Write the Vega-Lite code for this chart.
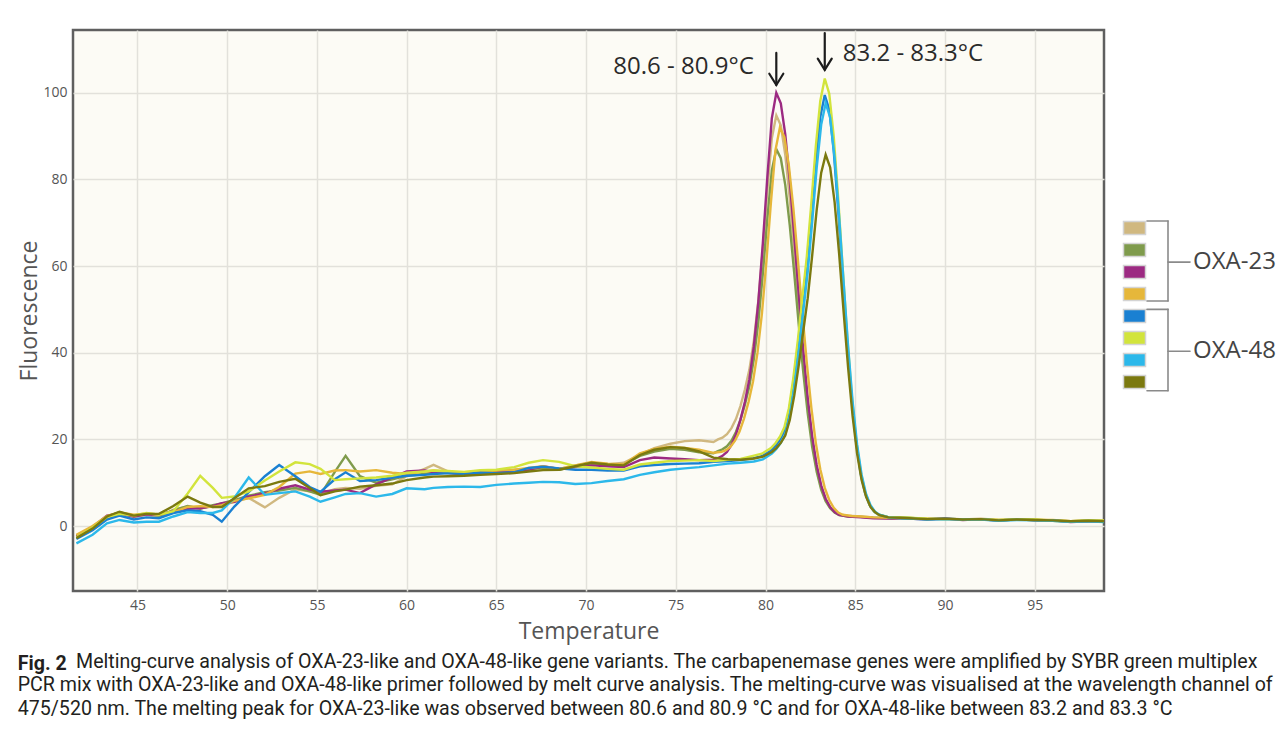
{
  "$schema": "https://vega.github.io/schema/vega-lite/v6.json",
  "background": "white",
  "padding": {"left": 16, "top": 27, "right": 0, "bottom": 0},
  "spacing": 0,
  "title": {
    "text": "Fig. 2",
    "subtitle": [
      "\u200b\u00a0\u00a0\u00a0\u00a0\u00a0\u00a0\u00a0\u00a0\u00a0\u00a0\u00a0\u00a0Melting-curve analysis of OXA-23-like and OXA-48-like gene variants. The carbapenemase genes were amplified by SYBR green multiplex",
      "PCR mix with OXA-23-like and OXA-48-like primer followed by melt curve analysis. The melting-curve was visualised at the wavelength channel of",
      "475/520 nm. The melting peak for OXA-23-like was observed between 80.6 and 80.9 °C and for OXA-48-like between 83.2 and 83.3 °C"
    ],
    "orient": "bottom",
    "anchor": "start",
    "frame": "bounds",
    "offset": 11,
    "dx": 1,
    "font": "Roboto",
    "fontSize": 19.6,
    "fontWeight": "bold",
    "color": "#231f20",
    "subtitleFont": "Roboto",
    "subtitleFontSize": 19.6,
    "subtitleFontWeight": "normal",
    "subtitleColor": "#231f20",
    "subtitleLineHeight": 23.5,
    "subtitlePadding": -22
  },
  "config": {
    "axis": {"labelFont": "Open Sans", "titleFont": "Open Sans"}
  },
  "datasets": {
    "curves": [
      {"s":"s1","t":41.6,"f":-2.6},{"s":"s1","t":42.5,"f":-0.6},{"s":"s1","t":43.3,"f":1.8},{"s":"s1","t":44,"f":2.8},{"s":"s1","t":44.8,"f":2.1},{"s":"s1","t":45.5,"f":2.6},{"s":"s1","t":46.2,"f":2.0},{"s":"s1","t":47,"f":3.8},{"s":"s1","t":47.8,"f":4.5},{"s":"s1","t":48.5,"f":4.2},{"s":"s1","t":49.2,"f":4.5},{"s":"s1","t":49.7,"f":4.9},{"s":"s1","t":50.4,"f":5.5},{"s":"s1","t":51.2,"f":6.5},{"s":"s1","t":52.1,"f":4.3},{"s":"s1","t":52.9,"f":6.5},{"s":"s1","t":53.8,"f":8.5},{"s":"s1","t":54.6,"f":8.0},{"s":"s1","t":55.2,"f":7.5},{"s":"s1","t":56,"f":8.5},{"s":"s1","t":56.6,"f":8.8},{"s":"s1","t":57.4,"f":8.6},{"s":"s1","t":58.3,"f":9.3},{"s":"s1","t":59.2,"f":9.6},{"s":"s1","t":60,"f":11.5},{"s":"s1","t":61,"f":13.2},{"s":"s1","t":61.5,"f":14.1},{"s":"s1","t":62.3,"f":12.6},{"s":"s1","t":63.2,"f":12.2},{"s":"s1","t":64.1,"f":12.5},{"s":"s1","t":65,"f":12.3},{"s":"s1","t":66,"f":13.0},{"s":"s1","t":66.8,"f":13.2},{"s":"s1","t":67.6,"f":13.6},{"s":"s1","t":68.5,"f":13.2},{"s":"s1","t":69.4,"f":14.0},{"s":"s1","t":70.3,"f":14.6},{"s":"s1","t":71.2,"f":14.2},{"s":"s1","t":72.1,"f":14.6},{"s":"s1","t":73,"f":16.5},{"s":"s1","t":73.8,"f":18.0},{"s":"s1","t":74.7,"f":19.0},{"s":"s1","t":75.5,"f":19.6},{"s":"s1","t":76.3,"f":19.8},{"s":"s1","t":77.1,"f":19.4},
      {"s":"s1","t":77.35,"f":20.0},{"s":"s1","t":77.6,"f":20.4},{"s":"s1","t":77.85,"f":21.2},{"s":"s1","t":78.1,"f":22.6},{"s":"s1","t":78.35,"f":24.7},{"s":"s1","t":78.6,"f":27.7},{"s":"s1","t":78.85,"f":31.5},{"s":"s1","t":79.1,"f":36.1},{"s":"s1","t":79.35,"f":42.8},{"s":"s1","t":79.6,"f":52.0},{"s":"s1","t":79.85,"f":64.0},{"s":"s1","t":80.1,"f":77.5},{"s":"s1","t":80.35,"f":89.5},{"s":"s1","t":80.6,"f":94.8},{"s":"s1","t":80.85,"f":92.5},{"s":"s1","t":81.1,"f":85.7},{"s":"s1","t":81.35,"f":75.6},{"s":"s1","t":81.6,"f":63.4},{"s":"s1","t":81.85,"f":50.6},{"s":"s1","t":82.1,"f":38.7},{"s":"s1","t":82.35,"f":28.2},{"s":"s1","t":82.6,"f":19.7},{"s":"s1","t":82.85,"f":13.4},{"s":"s1","t":83.1,"f":9.0},{"s":"s1","t":83.35,"f":6.1},{"s":"s1","t":83.6,"f":4.3},{"s":"s1","t":83.85,"f":3.2},{"s":"s1","t":84.1,"f":2.7},{"s":"s1","t":84.6,"f":2.4},
      {"s":"s1","t":85.3,"f":2.2},{"s":"s1","t":86,"f":2.0},{"s":"s1","t":87,"f":1.9},{"s":"s1","t":88,"f":1.8},{"s":"s1","t":89,"f":1.7},{"s":"s1","t":90,"f":1.8},{"s":"s1","t":91,"f":1.5},{"s":"s1","t":92,"f":1.7},{"s":"s1","t":93,"f":1.4},{"s":"s1","t":94,"f":1.6},{"s":"s1","t":95,"f":1.5},{"s":"s1","t":96,"f":1.3},{"s":"s1","t":97,"f":1.1},{"s":"s1","t":98,"f":1.3},{"s":"s1","t":98.86,"f":1.2},

      {"s":"s2","t":41.6,"f":-2.2},{"s":"s2","t":42.5,"f":-0.3},{"s":"s2","t":43.3,"f":2.2},{"s":"s2","t":44,"f":3.2},{"s":"s2","t":44.8,"f":2.3},{"s":"s2","t":45.5,"f":2.8},{"s":"s2","t":46.2,"f":2.4},{"s":"s2","t":47,"f":3.6},{"s":"s2","t":47.8,"f":4.6},{"s":"s2","t":48.5,"f":4.0},{"s":"s2","t":49.2,"f":4.8},{"s":"s2","t":49.7,"f":5.2},{"s":"s2","t":50.4,"f":6.0},{"s":"s2","t":51.2,"f":7.0},{"s":"s2","t":52.1,"f":7.8},{"s":"s2","t":52.9,"f":8.2},{"s":"s2","t":53.8,"f":8.8},{"s":"s2","t":54.6,"f":8.0},{"s":"s2","t":55.2,"f":7.2},{"s":"s2","t":56,"f":12.5},{"s":"s2","t":56.6,"f":16.2},{"s":"s2","t":57.4,"f":11.5},{"s":"s2","t":58.3,"f":10.0},{"s":"s2","t":59.2,"f":10.8},{"s":"s2","t":60,"f":11.6},{"s":"s2","t":61,"f":12.0},{"s":"s2","t":61.5,"f":12.3},{"s":"s2","t":62.3,"f":12.2},{"s":"s2","t":63.2,"f":12.0},{"s":"s2","t":64.1,"f":12.4},{"s":"s2","t":65,"f":12.5},{"s":"s2","t":66,"f":12.8},{"s":"s2","t":66.8,"f":13.2},{"s":"s2","t":67.6,"f":13.4},{"s":"s2","t":68.5,"f":13.0},{"s":"s2","t":69.4,"f":13.8},{"s":"s2","t":70.3,"f":14.5},{"s":"s2","t":71.2,"f":14.3},{"s":"s2","t":72.1,"f":14.2},{"s":"s2","t":73,"f":16.2},{"s":"s2","t":73.8,"f":17.2},{"s":"s2","t":74.7,"f":17.8},{"s":"s2","t":75.5,"f":17.6},{"s":"s2","t":76.3,"f":17.0},{"s":"s2","t":77.1,"f":16.8},
      {"s":"s2","t":77.35,"f":17.3},{"s":"s2","t":77.6,"f":17.7},{"s":"s2","t":77.85,"f":18.4},{"s":"s2","t":78.1,"f":19.7},{"s":"s2","t":78.35,"f":21.7},{"s":"s2","t":78.6,"f":24.5},{"s":"s2","t":78.85,"f":28.0},{"s":"s2","t":79.1,"f":32.3},{"s":"s2","t":79.35,"f":38.6},{"s":"s2","t":79.6,"f":47.1},{"s":"s2","t":79.85,"f":58.3},{"s":"s2","t":80.1,"f":70.9},{"s":"s2","t":80.35,"f":82.1},{"s":"s2","t":80.6,"f":87.0},{"s":"s2","t":80.85,"f":84.9},{"s":"s2","t":81.1,"f":78.7},{"s":"s2","t":81.35,"f":69.4},{"s":"s2","t":81.6,"f":58.3},{"s":"s2","t":81.85,"f":46.5},{"s":"s2","t":82.1,"f":35.6},{"s":"s2","t":82.35,"f":26.0},{"s":"s2","t":82.6,"f":18.2},{"s":"s2","t":82.85,"f":12.5},{"s":"s2","t":83.1,"f":8.4},{"s":"s2","t":83.35,"f":5.7},{"s":"s2","t":83.6,"f":4.1},{"s":"s2","t":83.85,"f":3.1},{"s":"s2","t":84.1,"f":2.5},{"s":"s2","t":84.6,"f":2.2},
      {"s":"s2","t":85.3,"f":2.1},{"s":"s2","t":86,"f":1.9},{"s":"s2","t":87,"f":1.8},{"s":"s2","t":88,"f":1.9},{"s":"s2","t":89,"f":1.6},{"s":"s2","t":90,"f":1.6},{"s":"s2","t":91,"f":1.6},{"s":"s2","t":92,"f":1.5},{"s":"s2","t":93,"f":1.3},{"s":"s2","t":94,"f":1.5},{"s":"s2","t":95,"f":1.4},{"s":"s2","t":96,"f":1.2},{"s":"s2","t":97,"f":1.0},{"s":"s2","t":98,"f":1.2},{"s":"s2","t":98.86,"f":1.0},

      {"s":"s3","t":41.6,"f":-2.4},{"s":"s3","t":42.5,"f":-0.2},{"s":"s3","t":43.3,"f":2.4},{"s":"s3","t":44,"f":2.9},{"s":"s3","t":44.8,"f":2.2},{"s":"s3","t":45.5,"f":2.7},{"s":"s3","t":46.2,"f":2.6},{"s":"s3","t":47,"f":3.4},{"s":"s3","t":47.8,"f":4.0},{"s":"s3","t":48.5,"f":4.1},{"s":"s3","t":49.2,"f":4.6},{"s":"s3","t":49.7,"f":5.3},{"s":"s3","t":50.4,"f":5.6},{"s":"s3","t":51.2,"f":6.8},{"s":"s3","t":52.1,"f":7.5},{"s":"s3","t":52.9,"f":8.6},{"s":"s3","t":53.8,"f":9.4},{"s":"s3","t":54.6,"f":8.4},{"s":"s3","t":55.2,"f":7.9},{"s":"s3","t":56,"f":8.2},{"s":"s3","t":56.6,"f":8.4},{"s":"s3","t":57.4,"f":7.6},{"s":"s3","t":58.3,"f":9.6},{"s":"s3","t":59.2,"f":11.2},{"s":"s3","t":60,"f":12.6},{"s":"s3","t":61,"f":12.8},{"s":"s3","t":61.5,"f":12.4},{"s":"s3","t":62.3,"f":12.3},{"s":"s3","t":63.2,"f":12.0},{"s":"s3","t":64.1,"f":12.2},{"s":"s3","t":65,"f":12.6},{"s":"s3","t":66,"f":12.6},{"s":"s3","t":66.8,"f":13.0},{"s":"s3","t":67.6,"f":13.8},{"s":"s3","t":68.5,"f":13.2},{"s":"s3","t":69.4,"f":13.6},{"s":"s3","t":70.3,"f":14.0},{"s":"s3","t":71.2,"f":13.8},{"s":"s3","t":72.1,"f":13.6},{"s":"s3","t":73,"f":15.2},{"s":"s3","t":73.8,"f":15.8},{"s":"s3","t":74.7,"f":15.6},{"s":"s3","t":75.5,"f":15.4},{"s":"s3","t":76.3,"f":15.2},{"s":"s3","t":77.1,"f":15.3},
      {"s":"s3","t":77.35,"f":15.7},{"s":"s3","t":77.6,"f":16.2},{"s":"s3","t":77.85,"f":17.1},{"s":"s3","t":78.1,"f":18.7},{"s":"s3","t":78.35,"f":21.1},{"s":"s3","t":78.6,"f":24.5},{"s":"s3","t":78.85,"f":28.7},{"s":"s3","t":79.1,"f":33.9},{"s":"s3","t":79.35,"f":41.5},{"s":"s3","t":79.6,"f":51.8},{"s":"s3","t":79.85,"f":65.3},{"s":"s3","t":80.1,"f":80.5},{"s":"s3","t":80.35,"f":94.1},{"s":"s3","t":80.6,"f":100.0},{"s":"s3","t":80.85,"f":97.6},{"s":"s3","t":81.1,"f":90.4},{"s":"s3","t":81.35,"f":79.7},{"s":"s3","t":81.6,"f":66.9},{"s":"s3","t":81.85,"f":53.4},{"s":"s3","t":82.1,"f":40.7},{"s":"s3","t":82.35,"f":29.6},{"s":"s3","t":82.6,"f":20.7},{"s":"s3","t":82.85,"f":14.1},{"s":"s3","t":83.1,"f":9.4},{"s":"s3","t":83.35,"f":6.3},{"s":"s3","t":83.6,"f":4.4},{"s":"s3","t":83.85,"f":3.2},{"s":"s3","t":84.1,"f":2.6},{"s":"s3","t":84.6,"f":2.2},
      {"s":"s3","t":85.3,"f":2.0},{"s":"s3","t":86,"f":1.8},{"s":"s3","t":87,"f":1.7},{"s":"s3","t":88,"f":1.7},{"s":"s3","t":89,"f":1.5},{"s":"s3","t":90,"f":1.7},{"s":"s3","t":91,"f":1.4},{"s":"s3","t":92,"f":1.6},{"s":"s3","t":93,"f":1.2},{"s":"s3","t":94,"f":1.6},{"s":"s3","t":95,"f":1.3},{"s":"s3","t":96,"f":1.3},{"s":"s3","t":97,"f":0.9},{"s":"s3","t":98,"f":1.1},{"s":"s3","t":98.86,"f":1.1},

      {"s":"s4","t":41.6,"f":-2.0},{"s":"s4","t":42.5,"f":0.0},{"s":"s4","t":43.3,"f":2.3},{"s":"s4","t":44,"f":3.1},{"s":"s4","t":44.8,"f":2.6},{"s":"s4","t":45.5,"f":2.9},{"s":"s4","t":46.2,"f":2.7},{"s":"s4","t":47,"f":3.2},{"s":"s4","t":47.8,"f":4.4},{"s":"s4","t":48.5,"f":4.6},{"s":"s4","t":49.2,"f":4.4},{"s":"s4","t":49.7,"f":4.8},{"s":"s4","t":50.4,"f":5.8},{"s":"s4","t":51.2,"f":6.4},{"s":"s4","t":52.1,"f":7.2},{"s":"s4","t":52.9,"f":9.0},{"s":"s4","t":53.8,"f":12.1},{"s":"s4","t":54.6,"f":12.6},{"s":"s4","t":55.2,"f":12.0},{"s":"s4","t":56,"f":12.8},{"s":"s4","t":56.6,"f":12.9},{"s":"s4","t":57.4,"f":12.6},{"s":"s4","t":58.3,"f":12.9},{"s":"s4","t":59.2,"f":12.3},{"s":"s4","t":60,"f":12.0},{"s":"s4","t":61,"f":12.6},{"s":"s4","t":61.5,"f":12.8},{"s":"s4","t":62.3,"f":12.5},{"s":"s4","t":63.2,"f":12.4},{"s":"s4","t":64.1,"f":12.6},{"s":"s4","t":65,"f":12.8},{"s":"s4","t":66,"f":13.0},{"s":"s4","t":66.8,"f":13.4},{"s":"s4","t":67.6,"f":13.8},{"s":"s4","t":68.5,"f":13.2},{"s":"s4","t":69.4,"f":14.0},{"s":"s4","t":70.3,"f":14.8},{"s":"s4","t":71.2,"f":14.4},{"s":"s4","t":72.1,"f":14.2},{"s":"s4","t":73,"f":16.8},{"s":"s4","t":73.8,"f":17.8},{"s":"s4","t":74.7,"f":18.3},{"s":"s4","t":75.5,"f":18.0},{"s":"s4","t":76.3,"f":17.6},{"s":"s4","t":77.1,"f":16.9},
      {"s":"s4","t":77.55,"f":17.1},{"s":"s4","t":77.8,"f":17.5},{"s":"s4","t":78.05,"f":18.3},{"s":"s4","t":78.3,"f":19.7},{"s":"s4","t":78.55,"f":21.8},{"s":"s4","t":78.8,"f":24.8},{"s":"s4","t":79.05,"f":28.6},{"s":"s4","t":79.3,"f":33.3},{"s":"s4","t":79.55,"f":40.0},{"s":"s4","t":79.8,"f":49.1},{"s":"s4","t":80.05,"f":61.2},{"s":"s4","t":80.3,"f":74.7},{"s":"s4","t":80.55,"f":86.7},{"s":"s4","t":80.8,"f":92.0},{"s":"s4","t":81.05,"f":89.8},{"s":"s4","t":81.3,"f":83.2},{"s":"s4","t":81.55,"f":73.4},{"s":"s4","t":81.8,"f":61.6},{"s":"s4","t":82.05,"f":49.2},{"s":"s4","t":82.3,"f":37.6},{"s":"s4","t":82.55,"f":27.4},{"s":"s4","t":82.8,"f":19.2},{"s":"s4","t":83.05,"f":13.1},{"s":"s4","t":83.3,"f":8.8},{"s":"s4","t":83.55,"f":6.0},{"s":"s4","t":83.8,"f":4.2},{"s":"s4","t":84.05,"f":3.1},{"s":"s4","t":84.3,"f":2.6},{"s":"s4","t":84.8,"f":2.3},
      {"s":"s4","t":85.3,"f":2.2},{"s":"s4","t":86,"f":2.0},{"s":"s4","t":87,"f":1.9},{"s":"s4","t":88,"f":1.8},{"s":"s4","t":89,"f":1.7},{"s":"s4","t":90,"f":1.6},{"s":"s4","t":91,"f":1.6},{"s":"s4","t":92,"f":1.6},{"s":"s4","t":93,"f":1.4},{"s":"s4","t":94,"f":1.5},{"s":"s4","t":95,"f":1.4},{"s":"s4","t":96,"f":1.4},{"s":"s4","t":97,"f":1.1},{"s":"s4","t":98,"f":1.2},{"s":"s4","t":98.86,"f":1.2},

      {"s":"s5","t":41.6,"f":-3.0},{"s":"s5","t":42.5,"f":-1.0},{"s":"s5","t":43.3,"f":1.5},{"s":"s5","t":44,"f":2.4},{"s":"s5","t":44.8,"f":1.5},{"s":"s5","t":45.5,"f":2.0},{"s":"s5","t":46.2,"f":1.8},{"s":"s5","t":47,"f":3.0},{"s":"s5","t":47.8,"f":3.6},{"s":"s5","t":48.5,"f":3.4},{"s":"s5","t":49.2,"f":2.6},{"s":"s5","t":49.7,"f":1.0},{"s":"s5","t":50.4,"f":4.5},{"s":"s5","t":51.2,"f":7.8},{"s":"s5","t":52.1,"f":11.5},{"s":"s5","t":52.9,"f":14.1},{"s":"s5","t":53.8,"f":11.5},{"s":"s5","t":54.6,"f":9.0},{"s":"s5","t":55.2,"f":7.9},{"s":"s5","t":56,"f":10.8},{"s":"s5","t":56.6,"f":12.4},{"s":"s5","t":57.4,"f":10.4},{"s":"s5","t":58.3,"f":10.6},{"s":"s5","t":59.2,"f":11.2},{"s":"s5","t":60,"f":11.6},{"s":"s5","t":61,"f":11.8},{"s":"s5","t":61.5,"f":12.0},{"s":"s5","t":62.3,"f":12.2},{"s":"s5","t":63.2,"f":12.0},{"s":"s5","t":64.1,"f":12.3},{"s":"s5","t":65,"f":12.2},{"s":"s5","t":66,"f":12.4},{"s":"s5","t":66.8,"f":13.4},{"s":"s5","t":67.6,"f":13.7},{"s":"s5","t":68.5,"f":13.3},{"s":"s5","t":69.4,"f":13.0},{"s":"s5","t":70.3,"f":13.0},{"s":"s5","t":71.2,"f":12.8},{"s":"s5","t":72.1,"f":12.8},{"s":"s5","t":73,"f":13.8},{"s":"s5","t":73.8,"f":14.1},{"s":"s5","t":74.7,"f":14.3},{"s":"s5","t":75.5,"f":14.4},{"s":"s5","t":76.3,"f":14.5},{"s":"s5","t":77.1,"f":14.8},{"s":"s5","t":77.9,"f":15.0},{"s":"s5","t":78.6,"f":15.2},
      {"s":"s5","t":79.3,"f":15.6},{"s":"s5","t":79.8,"f":16.1},{"s":"s5","t":80.3,"f":17.4},{"s":"s5","t":80.55,"f":18.5},{"s":"s5","t":80.8,"f":19.9},{"s":"s5","t":81.05,"f":22.0},{"s":"s5","t":81.3,"f":26.2},{"s":"s5","t":81.55,"f":33.0},{"s":"s5","t":81.8,"f":41.4},{"s":"s5","t":82.05,"f":50.7},{"s":"s5","t":82.3,"f":59.9},{"s":"s5","t":82.55,"f":71.7},{"s":"s5","t":82.8,"f":84.3},{"s":"s5","t":83.05,"f":94.4},{"s":"s5","t":83.3,"f":99.5},{"s":"s5","t":83.55,"f":96.1},{"s":"s5","t":83.8,"f":86.6},{"s":"s5","t":84.05,"f":72.9},{"s":"s5","t":84.3,"f":57.4},{"s":"s5","t":84.55,"f":42.3},{"s":"s5","t":84.8,"f":29.3},{"s":"s5","t":85.05,"f":19.3},{"s":"s5","t":85.3,"f":12.1},{"s":"s5","t":85.55,"f":7.6},{"s":"s5","t":85.8,"f":4.8},{"s":"s5","t":86.05,"f":3.3},{"s":"s5","t":86.3,"f":2.6},{"s":"s5","t":86.8,"f":2.1},
      {"s":"s5","t":87.5,"f":1.9},{"s":"s5","t":88,"f":1.8},{"s":"s5","t":89,"f":1.6},{"s":"s5","t":90,"f":1.7},{"s":"s5","t":91,"f":1.5},{"s":"s5","t":92,"f":1.6},{"s":"s5","t":93,"f":1.3},{"s":"s5","t":94,"f":1.6},{"s":"s5","t":95,"f":1.4},{"s":"s5","t":96,"f":1.3},{"s":"s5","t":97,"f":1.0},{"s":"s5","t":98,"f":1.2},{"s":"s5","t":98.86,"f":1.1},

      {"s":"s6","t":41.6,"f":-2.6},{"s":"s6","t":42.5,"f":-0.4},{"s":"s6","t":43.3,"f":2.1},{"s":"s6","t":44,"f":2.8},{"s":"s6","t":44.8,"f":2.4},{"s":"s6","t":45.5,"f":3.0},{"s":"s6","t":46.2,"f":2.6},{"s":"s6","t":47,"f":3.4},{"s":"s6","t":47.8,"f":7.5},{"s":"s6","t":48.5,"f":11.6},{"s":"s6","t":49.2,"f":8.8},{"s":"s6","t":49.7,"f":6.5},{"s":"s6","t":50.4,"f":6.8},{"s":"s6","t":51.2,"f":8.0},{"s":"s6","t":52.1,"f":10.5},{"s":"s6","t":52.9,"f":12.6},{"s":"s6","t":53.8,"f":14.7},{"s":"s6","t":54.6,"f":14.3},{"s":"s6","t":55.2,"f":13.2},{"s":"s6","t":56,"f":10.6},{"s":"s6","t":56.6,"f":10.8},{"s":"s6","t":57.4,"f":11.0},{"s":"s6","t":58.3,"f":11.2},{"s":"s6","t":59.2,"f":11.6},{"s":"s6","t":60,"f":12.3},{"s":"s6","t":61,"f":12.6},{"s":"s6","t":61.5,"f":12.8},{"s":"s6","t":62.3,"f":12.7},{"s":"s6","t":63.2,"f":12.5},{"s":"s6","t":64.1,"f":12.9},{"s":"s6","t":65,"f":13.0},{"s":"s6","t":66,"f":13.6},{"s":"s6","t":66.8,"f":14.6},{"s":"s6","t":67.6,"f":15.2},{"s":"s6","t":68.5,"f":14.8},{"s":"s6","t":69.4,"f":13.8},{"s":"s6","t":70.3,"f":13.5},{"s":"s6","t":71.2,"f":13.2},{"s":"s6","t":72.1,"f":13.0},{"s":"s6","t":73,"f":14.2},{"s":"s6","t":73.8,"f":14.6},{"s":"s6","t":74.7,"f":15.0},{"s":"s6","t":75.5,"f":15.1},{"s":"s6","t":76.3,"f":15.2},{"s":"s6","t":77.1,"f":15.0},{"s":"s6","t":77.9,"f":15.3},{"s":"s6","t":78.6,"f":15.5},
      {"s":"s6","t":79.3,"f":16.2},{"s":"s6","t":79.8,"f":16.7},{"s":"s6","t":80.3,"f":18.0},{"s":"s6","t":80.55,"f":19.1},{"s":"s6","t":80.8,"f":20.6},{"s":"s6","t":81.05,"f":22.8},{"s":"s6","t":81.3,"f":27.2},{"s":"s6","t":81.55,"f":34.2},{"s":"s6","t":81.8,"f":42.9},{"s":"s6","t":82.05,"f":52.6},{"s":"s6","t":82.3,"f":62.2},{"s":"s6","t":82.55,"f":74.4},{"s":"s6","t":82.8,"f":87.6},{"s":"s6","t":83.05,"f":98.1},{"s":"s6","t":83.3,"f":103.3},{"s":"s6","t":83.55,"f":99.8},{"s":"s6","t":83.8,"f":89.9},{"s":"s6","t":84.05,"f":75.6},{"s":"s6","t":84.3,"f":59.5},{"s":"s6","t":84.55,"f":43.8},{"s":"s6","t":84.8,"f":30.4},{"s":"s6","t":85.05,"f":19.9},{"s":"s6","t":85.3,"f":12.5},{"s":"s6","t":85.55,"f":7.8},{"s":"s6","t":85.8,"f":4.9},{"s":"s6","t":86.05,"f":3.4},{"s":"s6","t":86.3,"f":2.6},{"s":"s6","t":86.8,"f":2.1},
      {"s":"s6","t":87.5,"f":2.0},{"s":"s6","t":88,"f":1.9},{"s":"s6","t":89,"f":1.7},{"s":"s6","t":90,"f":1.6},{"s":"s6","t":91,"f":1.6},{"s":"s6","t":92,"f":1.5},{"s":"s6","t":93,"f":1.4},{"s":"s6","t":94,"f":1.5},{"s":"s6","t":95,"f":1.5},{"s":"s6","t":96,"f":1.2},{"s":"s6","t":97,"f":1.1},{"s":"s6","t":98,"f":1.3},{"s":"s6","t":98.86,"f":1.2},

      {"s":"s7","t":41.6,"f":-4.0},{"s":"s7","t":42.5,"f":-2.0},{"s":"s7","t":43.3,"f":0.6},{"s":"s7","t":44,"f":1.4},{"s":"s7","t":44.8,"f":0.8},{"s":"s7","t":45.5,"f":1.0},{"s":"s7","t":46.2,"f":1.0},{"s":"s7","t":47,"f":2.2},{"s":"s7","t":47.8,"f":3.2},{"s":"s7","t":48.5,"f":3.0},{"s":"s7","t":49.2,"f":3.0},{"s":"s7","t":49.7,"f":3.6},{"s":"s7","t":50.4,"f":6.5},{"s":"s7","t":51.2,"f":11.2},{"s":"s7","t":52.1,"f":7.2},{"s":"s7","t":52.9,"f":7.6},{"s":"s7","t":53.8,"f":8.0},{"s":"s7","t":54.6,"f":6.8},{"s":"s7","t":55.2,"f":5.6},{"s":"s7","t":56,"f":6.6},{"s":"s7","t":56.6,"f":7.4},{"s":"s7","t":57.4,"f":7.6},{"s":"s7","t":58.3,"f":6.8},{"s":"s7","t":59.2,"f":7.4},{"s":"s7","t":60,"f":8.7},{"s":"s7","t":61,"f":8.5},{"s":"s7","t":61.5,"f":8.8},{"s":"s7","t":62.3,"f":9.0},{"s":"s7","t":63.2,"f":9.1},{"s":"s7","t":64.1,"f":9.0},{"s":"s7","t":65,"f":9.5},{"s":"s7","t":66,"f":9.8},{"s":"s7","t":66.8,"f":10.0},{"s":"s7","t":67.6,"f":10.2},{"s":"s7","t":68.5,"f":10.1},{"s":"s7","t":69.4,"f":9.7},{"s":"s7","t":70.3,"f":9.9},{"s":"s7","t":71.2,"f":10.4},{"s":"s7","t":72.1,"f":10.8},{"s":"s7","t":73,"f":11.8},{"s":"s7","t":73.8,"f":12.4},{"s":"s7","t":74.7,"f":13.0},{"s":"s7","t":75.5,"f":13.3},{"s":"s7","t":76.3,"f":13.6},{"s":"s7","t":77.1,"f":14.0},{"s":"s7","t":77.9,"f":14.4},{"s":"s7","t":78.6,"f":14.6},
      {"s":"s7","t":79.35,"f":14.9},{"s":"s7","t":79.85,"f":15.4},{"s":"s7","t":80.35,"f":16.7},{"s":"s7","t":80.6,"f":17.8},{"s":"s7","t":80.85,"f":19.2},{"s":"s7","t":81.1,"f":21.2},{"s":"s7","t":81.35,"f":25.4},{"s":"s7","t":81.6,"f":32.0},{"s":"s7","t":81.85,"f":40.3},{"s":"s7","t":82.1,"f":49.5},{"s":"s7","t":82.35,"f":58.6},{"s":"s7","t":82.6,"f":70.2},{"s":"s7","t":82.85,"f":82.7},{"s":"s7","t":83.1,"f":92.6},{"s":"s7","t":83.35,"f":97.6},{"s":"s7","t":83.6,"f":94.3},{"s":"s7","t":83.85,"f":85.0},{"s":"s7","t":84.1,"f":71.5},{"s":"s7","t":84.35,"f":56.3},{"s":"s7","t":84.6,"f":41.5},{"s":"s7","t":84.85,"f":28.8},{"s":"s7","t":85.1,"f":18.9},{"s":"s7","t":85.35,"f":11.9},{"s":"s7","t":85.6,"f":7.4},{"s":"s7","t":85.85,"f":4.8},{"s":"s7","t":86.1,"f":3.3},{"s":"s7","t":86.35,"f":2.6},{"s":"s7","t":86.85,"f":2.0},
      {"s":"s7","t":87.5,"f":1.8},{"s":"s7","t":88,"f":1.7},{"s":"s7","t":89,"f":1.5},{"s":"s7","t":90,"f":1.6},{"s":"s7","t":91,"f":1.5},{"s":"s7","t":92,"f":1.5},{"s":"s7","t":93,"f":1.2},{"s":"s7","t":94,"f":1.4},{"s":"s7","t":95,"f":1.3},{"s":"s7","t":96,"f":1.2},{"s":"s7","t":97,"f":1.0},{"s":"s7","t":98,"f":1.1},{"s":"s7","t":98.86,"f":0.9},

      {"s":"s8","t":41.6,"f":-2.8},{"s":"s8","t":42.5,"f":-0.6},{"s":"s8","t":43.3,"f":2.2},{"s":"s8","t":44,"f":3.3},{"s":"s8","t":44.8,"f":2.4},{"s":"s8","t":45.5,"f":2.8},{"s":"s8","t":46.2,"f":2.8},{"s":"s8","t":47,"f":4.6},{"s":"s8","t":47.8,"f":6.8},{"s":"s8","t":48.5,"f":5.4},{"s":"s8","t":49.2,"f":4.4},{"s":"s8","t":49.7,"f":4.4},{"s":"s8","t":50.4,"f":6.4},{"s":"s8","t":51.2,"f":8.7},{"s":"s8","t":52.1,"f":9.2},{"s":"s8","t":52.9,"f":10.2},{"s":"s8","t":53.8,"f":10.9},{"s":"s8","t":54.6,"f":8.8},{"s":"s8","t":55.2,"f":7.1},{"s":"s8","t":56,"f":8.0},{"s":"s8","t":56.6,"f":8.4},{"s":"s8","t":57.4,"f":9.1},{"s":"s8","t":58.3,"f":9.4},{"s":"s8","t":59.2,"f":9.8},{"s":"s8","t":60,"f":10.6},{"s":"s8","t":61,"f":11.2},{"s":"s8","t":61.5,"f":11.4},{"s":"s8","t":62.3,"f":11.5},{"s":"s8","t":63.2,"f":11.6},{"s":"s8","t":64.1,"f":11.8},{"s":"s8","t":65,"f":12.0},{"s":"s8","t":66,"f":12.2},{"s":"s8","t":66.8,"f":12.6},{"s":"s8","t":67.6,"f":12.9},{"s":"s8","t":68.5,"f":13.0},{"s":"s8","t":69.4,"f":13.8},{"s":"s8","t":70.3,"f":14.6},{"s":"s8","t":71.2,"f":14.2},{"s":"s8","t":72.1,"f":14.0},{"s":"s8","t":73,"f":16.4},{"s":"s8","t":73.8,"f":17.6},{"s":"s8","t":74.7,"f":18.2},{"s":"s8","t":75.5,"f":18.0},{"s":"s8","t":76.3,"f":17.2},{"s":"s8","t":77.1,"f":15.8},{"s":"s8","t":77.9,"f":15.4},{"s":"s8","t":78.6,"f":15.3},
      {"s":"s8","t":79.35,"f":15.6},{"s":"s8","t":79.85,"f":16.0},{"s":"s8","t":80.35,"f":17.1},{"s":"s8","t":80.6,"f":18.0},{"s":"s8","t":80.85,"f":19.2},{"s":"s8","t":81.1,"f":20.9},{"s":"s8","t":81.35,"f":24.5},{"s":"s8","t":81.6,"f":30.1},{"s":"s8","t":81.85,"f":37.1},{"s":"s8","t":82.1,"f":44.9},{"s":"s8","t":82.35,"f":52.6},{"s":"s8","t":82.6,"f":62.5},{"s":"s8","t":82.85,"f":73.0},{"s":"s8","t":83.1,"f":81.5},{"s":"s8","t":83.35,"f":85.7},{"s":"s8","t":83.6,"f":82.8},{"s":"s8","t":83.85,"f":74.7},{"s":"s8","t":84.1,"f":62.9},{"s":"s8","t":84.35,"f":49.5},{"s":"s8","t":84.6,"f":36.6},{"s":"s8","t":84.85,"f":25.4},{"s":"s8","t":85.1,"f":16.8},{"s":"s8","t":85.35,"f":10.7},{"s":"s8","t":85.6,"f":6.8},{"s":"s8","t":85.85,"f":4.4},{"s":"s8","t":86.1,"f":3.2},{"s":"s8","t":86.35,"f":2.5},{"s":"s8","t":86.85,"f":2.0},
      {"s":"s8","t":87.5,"f":1.9},{"s":"s8","t":88,"f":1.8},{"s":"s8","t":89,"f":1.6},{"s":"s8","t":90,"f":1.7},{"s":"s8","t":91,"f":1.5},{"s":"s8","t":92,"f":1.6},{"s":"s8","t":93,"f":1.3},{"s":"s8","t":94,"f":1.5},{"s":"s8","t":95,"f":1.4},{"s":"s8","t":96,"f":1.3},{"s":"s8","t":97,"f":1.1},{"s":"s8","t":98,"f":1.2},{"s":"s8","t":98.86,"f":1.1}
    ],
    "arrows": [
      {"a":"1","o":1,"t":80.6,"f":109.2},{"a":"1","o":2,"t":80.6,"f":101.8},
      {"a":"1h","o":1,"t":80.21,"f":104.4},{"a":"1h","o":2,"t":80.6,"f":101.8},{"a":"1h","o":3,"t":80.99,"f":104.4},
      {"a":"2","o":1,"t":83.3,"f":113.8},{"a":"2","o":2,"t":83.3,"f":105.3},
      {"a":"2h","o":1,"t":82.91,"f":107.9},{"a":"2h","o":2,"t":83.3,"f":105.3},{"a":"2h","o":3,"t":83.69,"f":107.9}
    ],
    "notesLeft": [{"label":"80.6 - 80.9°C","t":79.35,"f":105.9}],
    "notesRight": [{"label":"83.2 - 83.3°C","t":84.3,"f":109.0}],
    "swatches": [
      {"k":1,"s":"s1"},{"k":2,"s":"s2"},{"k":3,"s":"s3"},{"k":4,"s":"s4"},
      {"k":5,"s":"s5"},{"k":6,"s":"s6"},{"k":7,"s":"s7"},{"k":8,"s":"s8"}
    ],
    "groups": [
      {"g":"OXA-23","y1":0.68,"y2":4.32,"ym":2.55},
      {"g":"OXA-48","y1":4.7,"y2":8.4,"ym":6.6}
    ]
  },
  "hconcat": [
    {
      "width": 1031,
      "height": 561,
      "view": {"fill": "#fcfbf5", "stroke": "#5f5f5f", "strokeWidth": 2.5},
      "encoding": {
        "x": {
          "field": "t", "type": "quantitative",
          "scale": {"domain": [41.41, 98.86], "nice": false, "zero": false},
          "axis": {
            "values": [45, 50, 55, 60, 65, 70, 75, 80, 85, 90, 95],
            "tickSize": 0, "domain": false, "labelPadding": 7,
            "labelFontSize": 14, "labelColor": "#555",
            "grid": true, "gridColor": "#e2e1db", "gridWidth": 1.5,
            "title": "Temperature", "titleFontSize": 23, "titleFontWeight": "normal",
            "titleColor": "#555", "titlePadding": 8
          }
        },
        "y": {
          "field": "f", "type": "quantitative",
          "scale": {"domain": [-15, 114.5], "nice": false, "zero": false},
          "axis": {
            "values": [0, 20, 40, 60, 80, 100],
            "tickSize": 0, "domain": false, "labelPadding": 6,
            "labelFontSize": 14, "labelColor": "#555",
            "grid": true, "gridColor": "#e2e1db", "gridWidth": 1.5,
            "minExtent": 28, "maxExtent": 28,
            "title": "Fluorescence", "titleFontSize": 23, "titleFontWeight": "normal",
            "titleColor": "#555", "titlePadding": 4
          }
        }
      },
      "layer": [
        {
          "data": {"name": "curves"},
          "mark": {"type": "line", "strokeWidth": 2.4, "clip": true},
          "encoding": {
            "color": {
              "field": "s", "type": "nominal",
              "scale": {
                "domain": ["s1","s2","s3","s4","s5","s6","s7","s8"],
                "range": ["#d0b880","#7f9b4c","#9c2a82","#e6b73a","#1a80d2","#d2e43c","#2cb8ea","#7b790f"]
              },
              "legend": null
            }
          }
        },
        {
          "data": {"name": "arrows"},
          "mark": {"type": "line", "color": "#1c1c1c", "strokeWidth": 2.2, "strokeCap": "round", "strokeJoin": "miter"},
          "encoding": {
            "detail": {"field": "a"},
            "order": {"field": "o", "type": "quantitative"}
          }
        },
        {
          "data": {"name": "notesLeft"},
          "mark": {"type": "text", "align": "right", "baseline": "middle", "font": "Open Sans", "fontSize": 24, "color": "#2a2a2a"},
          "encoding": {"text": {"field": "label"}}
        },
        {
          "data": {"name": "notesRight"},
          "mark": {"type": "text", "align": "left", "baseline": "middle", "font": "Open Sans", "fontSize": 24, "color": "#2a2a2a"},
          "encoding": {"text": {"field": "label"}}
        }
      ]
    },
    {
      "width": 177,
      "height": 561,
      "view": {"stroke": null, "fill": null},
      "layer": [
        {
          "data": {"name": "swatches"},
          "mark": {"type": "point", "shape": "M-1,-0.6H1V0.6H-1Z", "size": 484, "filled": true, "opacity": 1, "stroke": "#d4d4d4", "strokeWidth": 1.5},
          "encoding": {
            "x": {"datum": 2.85, "type": "quantitative", "scale": {"domain": [0, 17.7], "nice": false, "zero": false}, "axis": null},
            "y": {"field": "k", "type": "quantitative", "scale": {"domain": [-8, 17.5], "reverse": true, "nice": false, "zero": false}, "axis": null},
            "fill": {
              "field": "s", "type": "nominal",
              "scale": {
                "domain": ["s1","s2","s3","s4","s5","s6","s7","s8"],
                "range": ["#d0b880","#7f9b4c","#9c2a82","#e6b73a","#1a80d2","#d2e43c","#2cb8ea","#7b790f"]
              },
              "legend": null
            }
          }
        },
        {
          "data": {"name": "groups"},
          "mark": {"type": "rule", "color": "#8a8a8a", "strokeWidth": 1.6, "strokeCap": "round"},
          "encoding": {
            "x": {"datum": 6.2, "type": "quantitative", "scale": {"domain": [0, 17.7], "nice": false, "zero": false}, "axis": null},
            "y": {"field": "y1", "type": "quantitative", "scale": {"domain": [-8, 17.5], "reverse": true, "nice": false, "zero": false}, "axis": null},
            "y2": {"field": "y2"}
          }
        },
        {
          "data": {"name": "groups"},
          "mark": {"type": "rule", "color": "#8a8a8a", "strokeWidth": 1.6, "strokeCap": "round"},
          "encoding": {
            "x": {"datum": 4.1, "type": "quantitative", "scale": {"domain": [0, 17.7], "nice": false, "zero": false}, "axis": null},
            "x2": {"datum": 6.2},
            "y": {"field": "y1", "type": "quantitative", "scale": {"domain": [-8, 17.5], "reverse": true, "nice": false, "zero": false}, "axis": null}
          }
        },
        {
          "data": {"name": "groups"},
          "mark": {"type": "rule", "color": "#8a8a8a", "strokeWidth": 1.6, "strokeCap": "round"},
          "encoding": {
            "x": {"datum": 4.1, "type": "quantitative", "scale": {"domain": [0, 17.7], "nice": false, "zero": false}, "axis": null},
            "x2": {"datum": 6.2},
            "y": {"field": "y2", "type": "quantitative", "scale": {"domain": [-8, 17.5], "reverse": true, "nice": false, "zero": false}, "axis": null}
          }
        },
        {
          "data": {"name": "groups"},
          "mark": {"type": "rule", "color": "#8a8a8a", "strokeWidth": 1.6, "strokeCap": "round"},
          "encoding": {
            "x": {"datum": 6.2, "type": "quantitative", "scale": {"domain": [0, 17.7], "nice": false, "zero": false}, "axis": null},
            "x2": {"datum": 8.4},
            "y": {"field": "ym", "type": "quantitative", "scale": {"domain": [-8, 17.5], "reverse": true, "nice": false, "zero": false}, "axis": null}
          }
        },
        {
          "data": {"name": "groups"},
          "mark": {"type": "text", "align": "left", "baseline": "middle", "font": "Open Sans", "fontSize": 24, "color": "#444"},
          "encoding": {
            "x": {"datum": 8.7, "type": "quantitative", "scale": {"domain": [0, 17.7], "nice": false, "zero": false}, "axis": null},
            "y": {"field": "ym", "type": "quantitative", "scale": {"domain": [-8, 17.5], "reverse": true, "nice": false, "zero": false}, "axis": null},
            "text": {"field": "g"}
          }
        }
      ]
    }
  ]
}
